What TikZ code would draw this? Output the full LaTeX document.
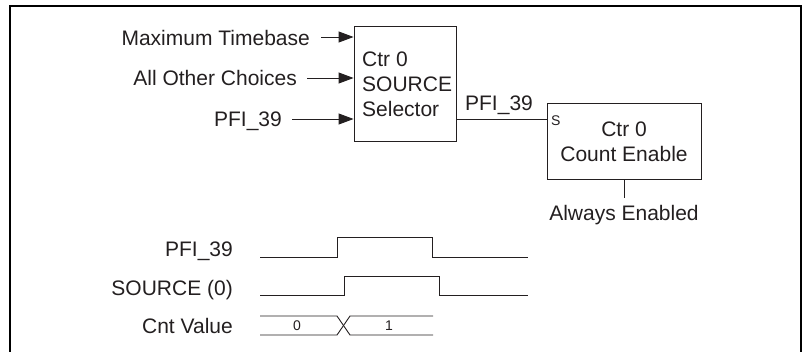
\documentclass[tikz,border=0pt]{standalone}
\usepackage{fontspec}
\setmainfont{Liberation Sans}
\usetikzlibrary{arrows.meta}
\definecolor{ink}{HTML}{231F20}
\begin{document}
\begin{tikzpicture}[x=1pt,y=-1pt,
  txt/.style={inner sep=0pt,text=ink,font=\fontsize{21}{25}\selectfont},
  small/.style={inner sep=0pt,text=ink,font=\fontsize{14}{16}\selectfont},
  blk/.style={draw=ink,line width=0.9pt,rectangle,inner sep=0pt},
  wire/.style={draw=ink,line width=0.9pt},
  arr/.style={wire,-{Triangle[length=15pt,width=11pt]}},
  frame/.style={draw=black,line width=2pt}]
\useasboundingbox (0,0) rectangle (802,351);
\draw[frame] (10,352) -- (10,6) -- (800.5,6) -- (800.5,352);

% selector box
\node[blk,minimum width=102pt,minimum height=115pt] (sel) at (405,83.5) {};
\node[txt,anchor=base west] (s1) at (362,66) {Ctr 0};
\node[txt,anchor=base west] (s2) at (362,91) {SOURCE};
\node[txt,anchor=base west] (s3) at (362,116) {Selector};

% inputs
\node[txt,anchor=base east] (mt) at (310,45) {Maximum Timebase};
\node[txt,anchor=base east] (ao) at (297,85) {All Other Choices};
\node[txt,anchor=base east] (pf) at (282,126) {PFI\_39};
\coordinate (a1) at (321,37);
\coordinate (a2) at (307,78);
\coordinate (a3) at (292,119);
\draw[arr] (a1) -- (a1 -| sel.west);
\draw[arr] (a2) -- (a2 -| sel.west);
\draw[arr] (a3) -- (a3 -| sel.west);

% count enable box
\node[blk,minimum width=154pt,minimum height=76pt] (ce) at (624,141) {};
\node[txt,align=center] (cet) at (624,142) {Ctr 0\\Count Enable};
\node[small,anchor=west] (sl) at (551,121) {S};
\coordinate (o1) at (456,119);
\draw[wire] (o1) -- (o1 -| ce.west);
\node[txt,anchor=base] (opf) at (499,110) {PFI\_39};
\coordinate (ae) at (624,198);
\draw[wire] (ce.south) -- (ae);
\node[txt,anchor=base] (ael) at (624,220) {Always Enabled};

% timing labels
\node[txt,anchor=base east] (t1) at (233,256) {PFI\_39};
\node[txt,anchor=base east] (t2) at (233,295) {SOURCE (0)};
\node[txt,anchor=base east] (t3) at (233,333) {Cnt Value};

% waveforms
\draw[wire] (260,257) -- (337,257) -- (337,237) -- (432,237) -- (432,257) -- (528,257);
\draw[wire] (260,295) -- (344,295) -- (344,276) -- (439,276) -- (439,295) -- (528,295);
\draw[wire] (260,316) -- (337,316) -- (350,335) -- (433,335);
\draw[wire] (260,335) -- (337,335) -- (350,316) -- (433,316);
\node[small] (v0) at (297,326) {0};
\node[small] (v1) at (389,326) {1};
\end{tikzpicture}
\end{document}
